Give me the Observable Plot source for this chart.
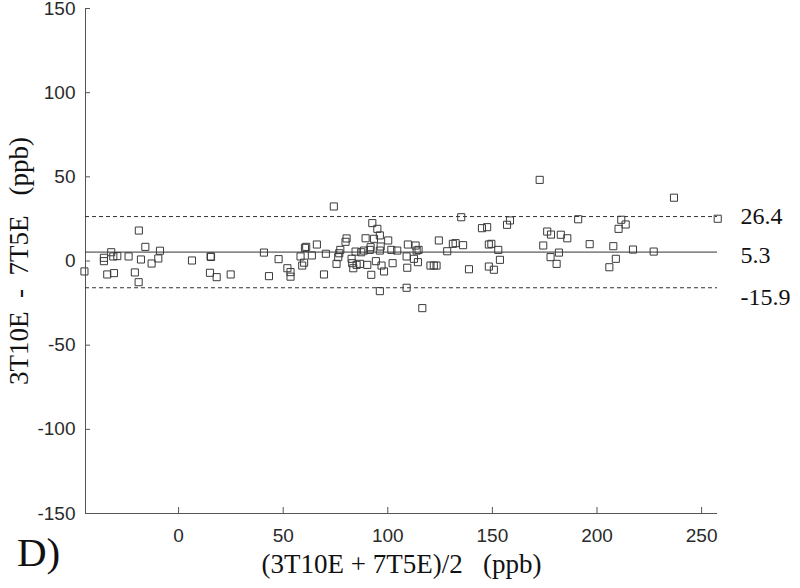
<!DOCTYPE html>
<html>
<head>
<meta charset="utf-8">
<script src="https://cdn.jsdelivr.net/npm/d3@7"></script>
<script src="https://cdn.jsdelivr.net/npm/@observablehq/plot@0.6"></script>
<style>
  html, body { margin: 0; padding: 0; background: #fff; }
  #chart { position: relative; width: 800px; height: 588px; }
  .panel { position: absolute; left: 17px; top: 532px; font-family: "Liberation Serif", "Times New Roman", serif; font-size: 41px; line-height: 1; color: #111; }
</style>
</head>
<body>
<div id="chart"></div>
<script>
// Mean of the two methods (x) and their difference (y)
const meanX = [-45, -35.7, -35.7, -32.2, -31.2, -29.3, -34.1, -30.9, -23.9, -19, -15.9, -18, -20.9, -19.1, -12.9, -9.7, -8.9,
  6.4, 15.3, 15.5, 15, 18.2, 24.9, 40.8, 43.2, 47.8, 52, 53.5, 53.5, 58.3, 59.1, 60, 60.4, 61, 63.7, 66.1, 69.5, 70.4,
  74.2, 75.5, 76.3, 76.8, 77.3, 79.8, 80.3, 82.7, 83, 83.5, 84.6, 85.1, 86.7, 87.3, 88.6, 89.4, 90.2, 91.4, 91.8, 92.1,
  92.6, 93.4, 94.3, 95, 96.2, 96.6, 96.2, 97, 98.2, 96.2, 100.2, 101.7, 102.3, 104.5, 109, 109.3, 109.6, 109, 112.5,
  113.3, 113.8, 114.4, 114.7, 116.5, 120.4, 122, 123.3, 124.4, 128.4, 131.1, 132.4, 135.1, 136, 138.8, 145, 147.5,
  148.3, 149.5, 148.3, 150.7, 152.8, 153.6, 157, 158.4, 172.6, 174.3, 176.2, 178, 177.8, 181.8, 180.7, 182.7, 185.8,
  191, 196.5, 205.9, 207.8, 209, 210.3, 211.6, 213.7, 217.2, 227.1, 236.8, 257.7];
const diffY = [-6.2, 1.9, -0.1, 5.2, 2.7, 2.9, -8, -7.2, 2.7, 18.1, 8.4, 0.9, -6.8, -12.6, -1.5, 1.5, 6.1,
  0.3, 2.7, 2.4, -7, -9.6, -8, 5, -9, 1.1, -4.3, -6.6, -9.3, 2.7, -2.7, -1, 7.8, 8.4, 3.3, 9.8, -8, 4.3,
  32.4, -1.7, 2.3, 4.6, 6.6, 11.4, 13.4, 1.3, -1.3, -4.3, 5.6, -2.3, -1.7, 5.2, 6.2, 13.5, -2.3, 6.6, 8.2, -8.2,
  22.5, 13.2, -0.1, 19.1, 15.2, 8.6, 6.2, -2.7, -6.2, -17.9, 12.2, 6.6, -1.3, 6.2, 2.7, -4, 9.8, -15.9, 1.3,
  9.2, 6.2, -0.7, 6.6, -28, -2.7, -2.7, -2.7, 12.2, 5.8, 10.2, 10.6, 26, 9.4, -4.9, 19.5, 20.1,
  9.8, 10.2, -3.3, -5.2, 6.6, 0.7, 21.5, 24.1, 48.2, 9.2, 17.5, 15.7, 2.3, 5, -1.7, 15.6, 13.5,
  24.8, 10, -3.7, 8.8, 1.3, 19.1, 24.5, 21.7, 6.8, 5.6, 37.6, 25.1];

// Bias and limits of agreement
const meanBias = [5.3];
const limits = [26.4, -15.9];
const limitLabels = ["26.4", "5.3", "-15.9"];
const limitLabelValues = [26.4, 5.3, -15.9];
const labelOffsets = [0, 3, 10];

const xTicks = [0, 50, 100, 150, 200, 250];
const yTicks = [-150, -100, -50, 0, 50, 100, 150];
const xDomain = [-44.5, 257.6];
const yDomain = [-150, 150];

const points = meanX.map((x, i) => ({x, y: diffY[i]}));

const W = 800, H = 588;
const mL = 85, mR = 83, mT = 8, mB = 75;
const innerW = W - mL - mR, innerH = H - mT - mB;
const axisColor = "#555";
const textColor = "#2a2a2a";
const serif = "'Liberation Serif', 'Times New Roman', serif";
const fmt = d => String(d);

const chart = Plot.plot({
  width: W,
  height: H,
  marginLeft: mL,
  marginRight: mR,
  marginTop: mT,
  marginBottom: mB,
  style: {fontFamily: "Arial, 'Liberation Sans', sans-serif", fontSize: "19px", color: textColor, background: "#fff", overflow: "visible"},
  x: {domain: xDomain, label: null},
  y: {domain: yDomain, label: null},
  marks: [
    // axis lines
    Plot.ruleX([xDomain[0]], {stroke: axisColor, strokeWidth: 1}),
    Plot.ruleY([yDomain[0]], {stroke: axisColor, strokeWidth: 1}),
    // inward ticks
    Plot.tickY(yTicks, {y: d => d, stroke: axisColor, insetRight: innerW - 5}),
    Plot.tickX(xTicks, {x: d => d, stroke: axisColor, insetTop: innerH - 6}),
    Plot.axisY({ticks: yTicks, tickSize: 0, tickPadding: 10, label: null, fontSize: 19, color: textColor, tickFormat: fmt}),
    Plot.axisX({ticks: xTicks, tickSize: 0, tickPadding: 15, label: null, fontSize: 19, color: textColor, tickFormat: fmt}),
    // mean and limits
    Plot.ruleY(meanBias, {stroke: "#333", strokeWidth: 1}),
    Plot.ruleY(limits, {stroke: "#333", strokeWidth: 1, strokeDasharray: "4,3"}),
    // data
    Plot.dot(points, {x: "x", y: "y", symbol: "square", r: 4, stroke: "#3a3a3a", strokeWidth: 1, fill: "none"}),
    // limit labels
    ...limitLabels.map((t, i) => Plot.text([limitLabelValues[i]], {
      y: d => d, text: () => t, frameAnchor: "right", textAnchor: "start", dx: 23, dy: labelOffsets[i],
      fontFamily: serif, fontSize: 24, fill: "#111"
    })),
    // axis titles
    Plot.text(["(3T10E + 7T5E)/2   (ppb)"], {
      text: d => d, frameAnchor: "bottom", textAnchor: "middle", dy: 59, fontFamily: serif, fontSize: 27, fill: "#111"
    }),
    Plot.text(["3T10E  -  7T5E   (ppb)"], {
      text: d => d, frameAnchor: "left", textAnchor: "middle", dx: -66, rotate: -90, fontFamily: serif, fontSize: 27, fill: "#111"
    })
  ]
});

const holder = document.getElementById("chart");
holder.appendChild(chart);
d3.select(chart).selectAll("text").style("white-space", "pre");
const panel = document.createElement("div");
panel.className = "panel";
panel.textContent = "D)";
holder.appendChild(panel);
</script>
</body>
</html>
